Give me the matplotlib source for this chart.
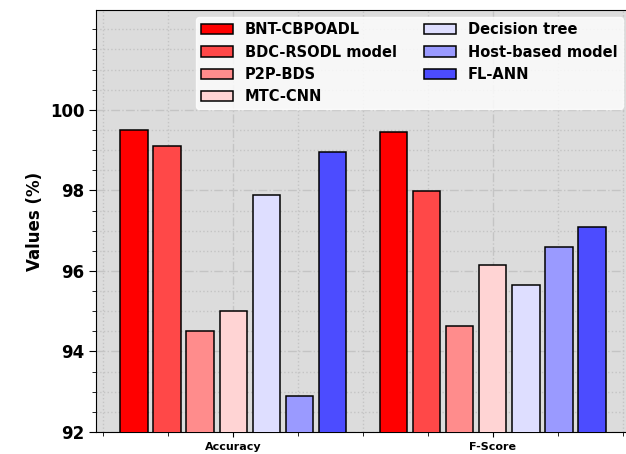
import matplotlib
matplotlib.use("Agg")
import matplotlib.pyplot as plt
import numpy as np
from matplotlib.ticker import MultipleLocator

metrics = ["Accuracy", "F-Score"]
models = ["BNT-CBPOADL", "BDC-RSODL model", "P2P-BDS", "MTC-CNN",
          "Decision tree", "Host-based model", "FL-ANN"]
accuracy = [99.49, 99.11, 94.51, 95.01, 97.89, 92.89, 98.95]
f_score = [99.44, 97.99, 94.64, 96.15, 95.64, 96.59, 97.08]
colors = ["#ff0000", "#ff4848", "#ff8c8c", "#ffd4d4",
          "#dedeff", "#9a9aff", "#4c4cff"]
y_ticks = [92, 94, 96, 98, 100]

fig = plt.figure(figsize=(6.26, 4.54), dpi=100)
ax = fig.add_axes([96 / 626, 22 / 454, 534 / 626, 422 / 454])
ax.set_facecolor("#dcdcdc")

x = np.arange(len(metrics))
step = 0.1275
width = 0.105
values = np.array([accuracy, f_score]).T
for i, (name, col) in enumerate(zip(models, colors)):
    ax.bar(x + (i - 3) * step, values[i], width=width, color=col,
           edgecolor="black", linewidth=1.1, label=name, zorder=3)

ax.set_ylim(92, 102.48)
ax.set_yticks(y_ticks)
ax.yaxis.set_minor_locator(MultipleLocator(0.5))
ax.xaxis.set_minor_locator(MultipleLocator(0.25))
ax.set_xticks(x)
ax.set_xticklabels(metrics, fontsize=8, fontweight="bold")
ax.set_yticklabels([str(t) for t in y_ticks], fontsize=12, fontweight="bold")
ax.tick_params(axis="y", which="major", length=5)
ax.tick_params(axis="both", which="minor", length=3)

ax.grid(which="major", linestyle="-.", color="#c4c4c4", linewidth=1.0, zorder=0)
ax.grid(which="minor", linestyle=":", color="#c4c4c4", linewidth=1.0, zorder=0)
ax.set_axisbelow(True)

ax.set_ylabel("Values (%)", fontsize=12, fontweight="bold")

ax.legend(loc="upper right", ncol=2, prop={"weight": "bold", "size": 10.5},
          framealpha=0.8, fancybox=True, edgecolor="white",
          handlelength=2.2, columnspacing=1.9, borderaxespad=0.5,
          labelspacing=0.5, borderpad=0.35)

fig.savefig("out.png", dpi=100)
